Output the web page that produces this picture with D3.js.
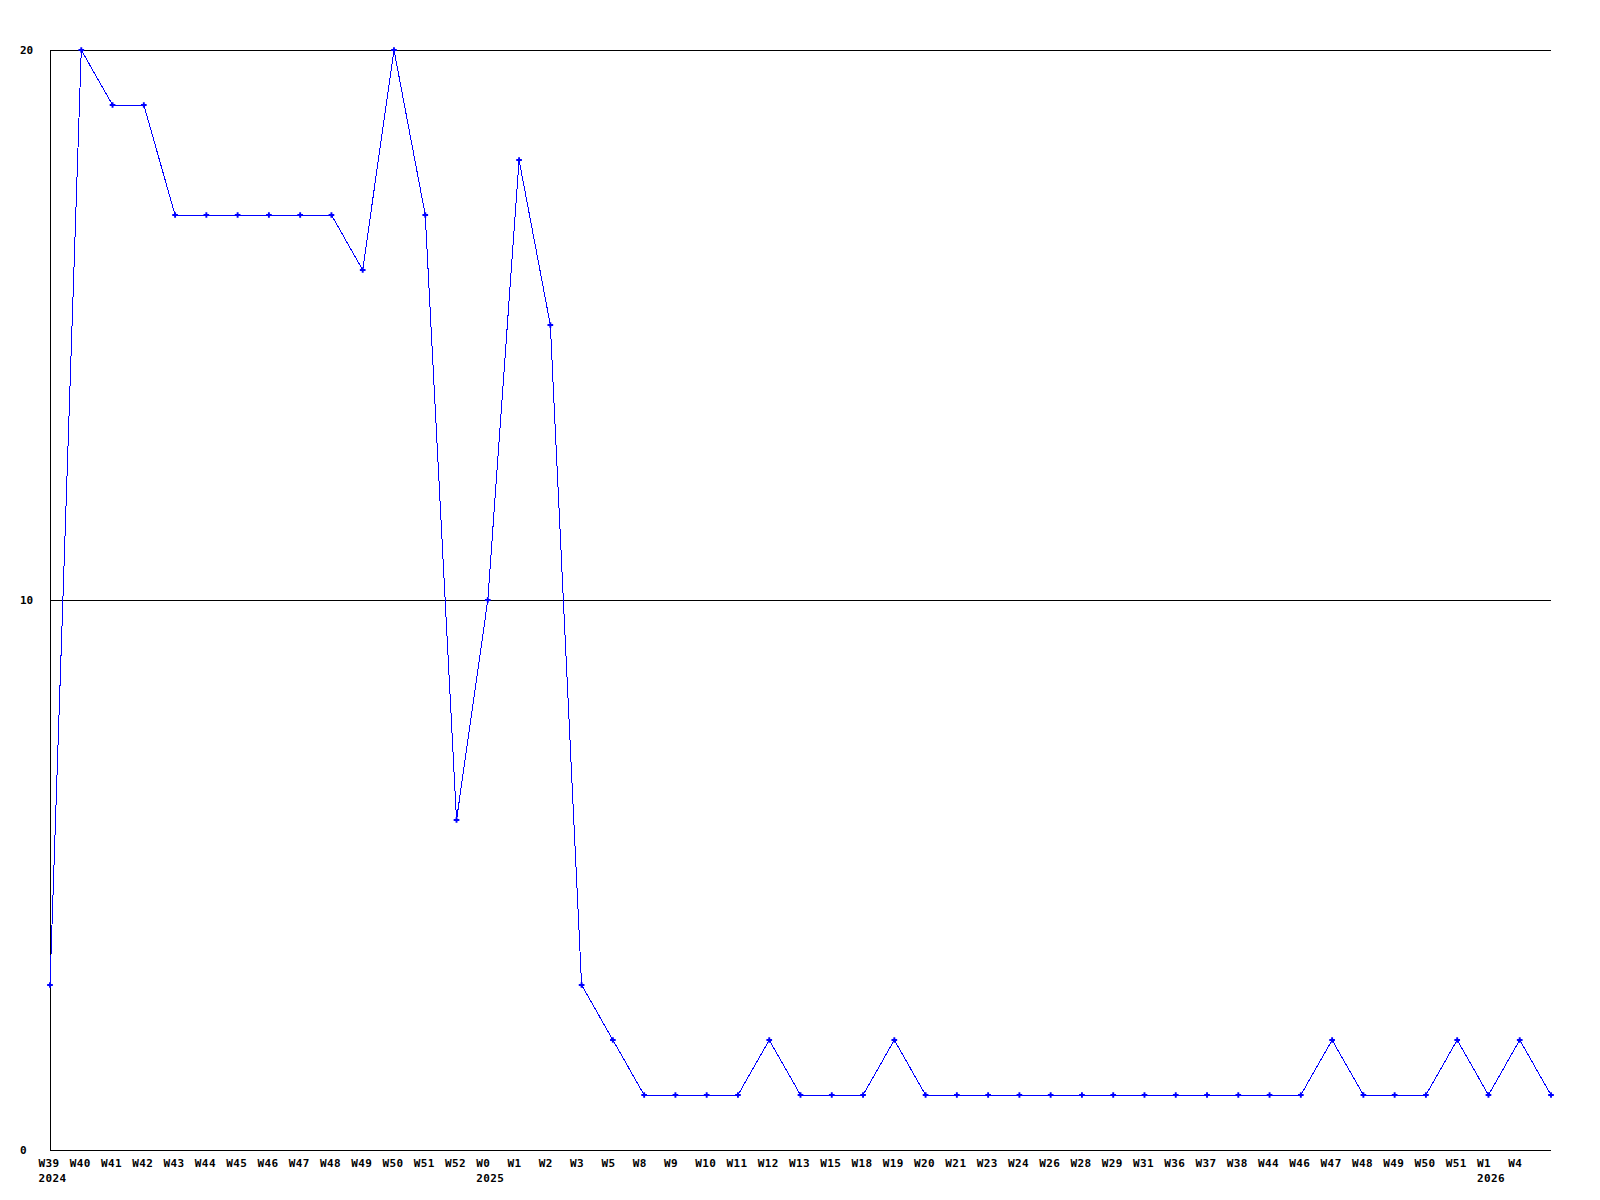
<!DOCTYPE html>
<html>
<head>
<meta charset="utf-8">
<script src="https://cdn.jsdelivr.net/npm/d3@7"></script>
<style>
  body { margin: 0; background: #fff; }
  svg { display: block; }
  text { font-family: "DejaVu Sans Mono", "Liberation Mono", monospace; font-weight: bold; font-size: 11px; fill: #000; }
</style>
</head>
<body>
<svg id="chart"></svg>
<script>
const weeks = ["W39","W40","W41","W42","W43","W44","W45","W46","W47","W48","W49","W50","W51","W52","W0","W1",
    "W2","W3","W5","W8","W9","W10","W11","W12","W13","W15","W18","W19","W20","W21","W23","W24","W26",
    "W28","W29","W31","W36","W37","W38","W44","W46","W47","W48","W49","W50","W51","W1","W4",""];
const counts = [3,20,19,19,17,17,17,17,17,17,16,20,17,6,10,18,
    15,3,2,1,1,1,1,2,1,1,1,2,1,1,1,1,1,
    1,1,1,1,1,1,1,1,2,1,1,1,2,1,2,1];
const yearIdx = [0, 14, 46];
const yearText = ["2024", "2025", "2026"];
const yTicks = [0, 10, 20];

const W = 1600, H = 1200;
const margin = { left: 50, right: 1551, top: 50, bottom: 1150 };

const svg = d3.select("#chart").attr("width", W).attr("height", H);

const x = d3.scalePoint()
    .domain(d3.range(counts.length))
    .range([margin.left, margin.right]);

const y = d3.scaleLinear()
    .domain([0, 20])
    .range([margin.bottom, margin.top]);

// horizontal grid lines (10, 20)
svg.append("g")
    .selectAll("line")
    .data(yTicks.filter(d => d > 0))
    .join("line")
    .attr("x1", margin.left).attr("x2", margin.right)
    .attr("y1", d => Math.round(y(d)) + 0.5).attr("y2", d => Math.round(y(d)) + 0.5)
    .attr("stroke", "#000")
    .attr("shape-rendering", "crispEdges");

// axes
svg.append("line")
    .attr("x1", margin.left + 0.5).attr("x2", margin.left + 0.5)
    .attr("y1", margin.top).attr("y2", margin.bottom)
    .attr("stroke", "#000").attr("shape-rendering", "crispEdges");
svg.append("line")
    .attr("x1", margin.left).attr("x2", margin.right)
    .attr("y1", margin.bottom + 0.5).attr("y2", margin.bottom + 0.5)
    .attr("stroke", "#000").attr("shape-rendering", "crispEdges");

// y tick labels
svg.append("g")
    .selectAll("text")
    .data(yTicks)
    .join("text")
    .attr("x", 20)
    .attr("y", d => y(d) + 4)
    .text(d => d);

// week labels
svg.append("g")
    .selectAll("text")
    .data(weeks)
    .join("text")
    .attr("x", (d, i) => x(i) - 11.5)
    .attr("y", margin.bottom + 17)
    .attr("letter-spacing", "0.4")
    .text(d => d);

// year labels
svg.append("g")
    .selectAll("text")
    .data(yearIdx)
    .join("text")
    .attr("x", (d) => x(d) - 11.5)
    .attr("y", margin.bottom + 32)
    .attr("letter-spacing", "0.4")
    .text((d, i) => yearText[i]);

// the line
const line = d3.line()
    .x((d, i) => x(i))
    .y(d => y(d));

svg.append("path")
    .datum(counts)
    .attr("d", line)
    .attr("fill", "none")
    .attr("stroke", "#0000ff")
    .attr("stroke-width", 1)
    .attr("shape-rendering", "crispEdges");

// point markers
svg.append("g")
    .selectAll("path")
    .data(counts)
    .join("path")
    .attr("transform", (d, i) => `translate(${x(i)},${y(d)})`)
    .attr("d", d3.symbol().type(d3.symbolCross).size(18))
    .attr("fill", "#0000ff");
</script>
</body>
</html>
